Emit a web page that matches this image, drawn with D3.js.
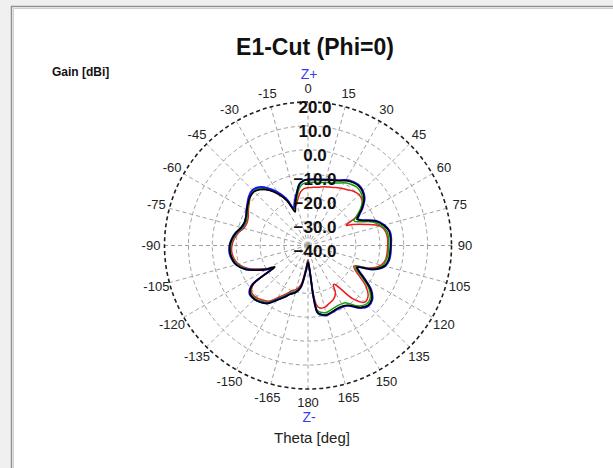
<!DOCTYPE html>
<html>
<head>
<meta charset="utf-8">
<script src="https://cdn.jsdelivr.net/npm/d3@7"></script>
<style>
  html, body { margin: 0; padding: 0; background: #f0f0f0; }
  svg { display: block; }
  text { font-family: "Liberation Sans", Arial, sans-serif; }
</style>
</head>
<body>
<svg id="chart" width="613" height="468"></svg>
<script>
// ---- data ----
const title = "E1-Cut (Phi=0)";
const radialLabel = "Gain [dBi]";
const angleLabel = "Theta [deg]";
const gainTicks = [20, 10, 0, -10, -20, -30, -40];
const thetaTicks = [0, 15, 30, 45, 60, 75, 90, 105, 120, 135, 150, 165, 180, -165, -150, -135, -120, -105, -90, -75, -60, -45, -30, -15];

const theta = [-180,-175,-170,-165,-160,-155,-150,-145,-140,-135,-130,-127,-125,-124,-123,-120,-116,-111,-105,-100,
  -95,-90,-85,-80,-75,-70,-65,-60,-55,-50,-45,-40,-35,-30,-25,-21,-18,-15,-12,-8,
  -4,0,5,10,15,20,25,30,35,40,45,50,55,59,62,65,70,75,80,85,
  90,95,100,105,110,114,117,120,125,130,135,140,145,147,150,155,160,165,170,172,174,175,177];

const gainBlue = [-32.9,-29.1,-22.0,-19.7,-18.5,-16.2,-13.7,-10.5,-9.1,-8.2,-8.2,-9.5,-11.6,-16.2,-22.9,-19.9,-16.6,-12.2,-8.9,-7.6,
  -7.0,-7.2,-8.0,-9.3,-11.2,-11.8,-11.4,-10.3,-9.1,-7.8,-7.2,-8.2,-10.7,-14.1,-18.3,-23.3,-21.6,-19.5,-17.4,-14.1,
  -12.8,-12.4,-12.2,-12.0,-11.4,-10.7,-9.9,-8.4,-7.4,-7.0,-7.6,-9.1,-12.0,-14.9,-16.4,-14.9,-9.8,-7.0,-5.3,-5.1,
  -5.3,-5.3,-5.5,-6.6,-10.7,-17.4,-15.8,-13.0,-7.8,-4.9,-4.3,-5.9,-9.1,-9.9,-10.5,-10.7,-10.3,-9.8,-10.7,-11.6,-18.3,-25.4,-30.8];

const gainBlack = [-33.0,-29.0,-22.2,-19.6,-18.3,-16.0,-13.5,-10.4,-9.0,-8.3,-8.4,-9.8,-12.0,-16.8,-23.5,-20.2,-16.4,-12.0,-8.9,-7.8,
  -7.3,-7.3,-8.1,-9.4,-11.0,-11.7,-11.4,-10.5,-9.4,-8.4,-8.2,-9.4,-11.8,-15.2,-19.4,-25.0,-23.0,-20.3,-17.6,-14.2,
  -12.8,-12.5,-12.3,-12.1,-11.6,-10.9,-10.1,-8.7,-7.7,-7.3,-7.9,-9.4,-12.4,-15.3,-16.8,-15.2,-10.1,-7.3,-5.6,-5.4,
  -5.5,-5.6,-5.8,-6.9,-11.0,-17.6,-16.0,-13.3,-8.1,-5.2,-4.6,-6.2,-9.4,-10.2,-10.8,-11.0,-10.5,-10.0,-10.9,-11.8,-18.5,-25.6,-31.0];

const gainGreen = [-33.4,-29.6,-22.6,-20.2,-19.0,-16.7,-14.2,-11.0,-9.6,-8.7,-8.7,-10.0,-12.1,-16.7,-23.3,-20.4,-17.1,-12.7,-9.4,-8.1,
  -7.5,-7.7,-8.5,-9.8,-11.7,-12.3,-11.9,-10.8,-9.6,-8.3,-7.8,-8.9,-11.4,-14.8,-19.0,-23.8,-22.5,-20.6,-18.6,-15.4,
  -14.0,-13.6,-13.5,-13.3,-12.7,-12.0,-11.2,-9.7,-8.7,-8.2,-8.7,-10.2,-13.2,-16.5,-18.2,-16.5,-11.2,-8.2,-6.4,-6.2,
  -6.3,-6.3,-6.6,-7.7,-11.8,-18.4,-16.9,-14.2,-9.0,-6.0,-5.4,-7.0,-10.4,-11.4,-11.8,-11.9,-11.5,-11.0,-11.8,-12.7,-19.2,-26.0,-31.3];

const gainRed = [-34.0,-30.5,-23.5,-21.0,-19.8,-17.4,-14.8,-11.6,-10.3,-9.3,-9.3,-10.6,-12.7,-17.2,-23.5,-20.8,-17.6,-13.2,-9.9,-8.6,
  -8.0,-8.2,-9.0,-10.3,-12.2,-12.8,-12.4,-11.2,-9.9,-8.5,-8.0,-9.2,-11.8,-15.2,-19.5,-24.0,-23.0,-21.8,-20.0,-17.5,
  -16.2,-15.8,-15.6,-15.3,-14.6,-14.0,-13.2,-12.4,-11.5,-10.4,-9.9,-10.5,-12.6,-15.5,-22.0,-19.2,-14.3,-8.8,-7.0,-6.6,
  -6.7,-6.8,-7.0,-8.4,-12.5,-19.0,-18.0,-15.8,-10.5,-7.2,-6.5,-11.0,-20.0,-20.5,-17.0,-15.0,-14.2,-13.2,-13.6,-15.0,-20.5,-27.0,-32.0];

const seriesNames = ["red", "green", "blue", "black"];
const seriesValues = [gainRed, gainGreen, gainBlue, gainBlack];
const seriesColors = ["#ee1c1c", "#12a012", "#1414f0", "#000000"];
const seriesWidths = [1.5, 1.5, 2, 1.6];

// ---- drawing ----
const svg = d3.select("#chart");
svg.append("rect").attr("x", 0).attr("y", 0).attr("width", 613).attr("height", 468).attr("fill", "#f0f0f0");
svg.append("rect").attr("x", 11.5).attr("y", 6.5).attr("width", 640).attr("height", 500)
  .attr("fill", "#ffffff").attr("stroke", "#8e8e8e").attr("stroke-width", 1.5);
svg.append("path").attr("d", "M13.5,470 V8.5 H640").attr("fill", "none").attr("stroke", "#cfcfcf").attr("stroke-width", 1);

const cx = 308, cy = 245.5, R = 143.5;
const r = d3.scaleLinear().domain([-40, 20]).range([0, R]);
const g = svg.append("g").attr("transform", `translate(${cx},${cy})`);
const rad = d => d * Math.PI / 180;

// spokes
g.selectAll("line.spoke").data(thetaTicks).join("line")
  .attr("class", "spoke")
  .attr("x1", 0).attr("y1", 0)
  .attr("x2", d => R * Math.sin(rad(d))).attr("y2", d => -R * Math.cos(rad(d)))
  .attr("stroke", "#a0a0a0").attr("stroke-width", 1).attr("stroke-dasharray", "4,3");

// rings
g.selectAll("circle.ring").data(gainTicks.filter(v => v > -40 && v < 20)).join("circle")
  .attr("class", "ring").attr("r", d => r(d))
  .attr("fill", "none").attr("stroke", "#a0a0a0").attr("stroke-width", 1).attr("stroke-dasharray", "4,3");
g.append("circle").attr("r", r(20)).attr("fill", "none")
  .attr("stroke", "#1e1e1e").attr("stroke-width", 1.6).attr("stroke-dasharray", "4,3");

// curves
const line = d3.lineRadial()
  .angle((d, i) => rad(theta[i]))
  .radius(d => r(d))
  .curve(d3.curveCatmullRomClosed.alpha(0.5));
seriesValues.forEach((vals, k) => {
  g.append("path").datum(vals).attr("d", line)
    .attr("fill", "none").attr("stroke", seriesColors[k])
    .attr("stroke-width", seriesWidths[k]).attr("stroke-linejoin", "round");
});

// gain labels
g.selectAll("text.gain").data(gainTicks).join("text")
  .attr("class", "gain")
  .attr("x", 7).attr("y", d => -r(d) + 5.5)
  .attr("text-anchor", "middle").attr("dominant-baseline", "central")
  .attr("font-size", 17).attr("font-weight", "bold").attr("fill", "#111")
  .text(d => d3.format(".1f")(d));

// angle labels
const LR = 157;
g.selectAll("text.ang").data(thetaTicks).join("text")
  .attr("class", "ang")
  .attr("x", d => LR * Math.sin(rad(d))).attr("y", d => -LR * Math.cos(rad(d)))
  .attr("text-anchor", "middle").attr("dominant-baseline", "central")
  .attr("font-size", 13).attr("fill", "#222")
  .text(d => d);

// Z labels
g.append("text").attr("x", 1).attr("y", -R - 28).attr("text-anchor", "middle").attr("dominant-baseline", "central")
  .attr("font-size", 14).attr("fill", "#3a3af0").text("Z+");
g.append("text").attr("x", 1).attr("y", R + 28).attr("text-anchor", "middle").attr("dominant-baseline", "central")
  .attr("font-size", 14).attr("fill", "#3a3af0").text("Z-");

// titles
svg.append("text").attr("x", 315).attr("y", 55).attr("text-anchor", "middle")
  .attr("font-size", 23).attr("font-weight", "bold").attr("fill", "#111").text(title);
svg.append("text").attr("x", 52).attr("y", 76).attr("font-size", 12).attr("font-weight", "bold")
  .attr("fill", "#111").text(radialLabel);
svg.append("text").attr("x", 312).attr("y", 443).attr("text-anchor", "middle")
  .attr("font-size", 15).attr("fill", "#222").text(angleLabel);
</script>
</body>
</html>
